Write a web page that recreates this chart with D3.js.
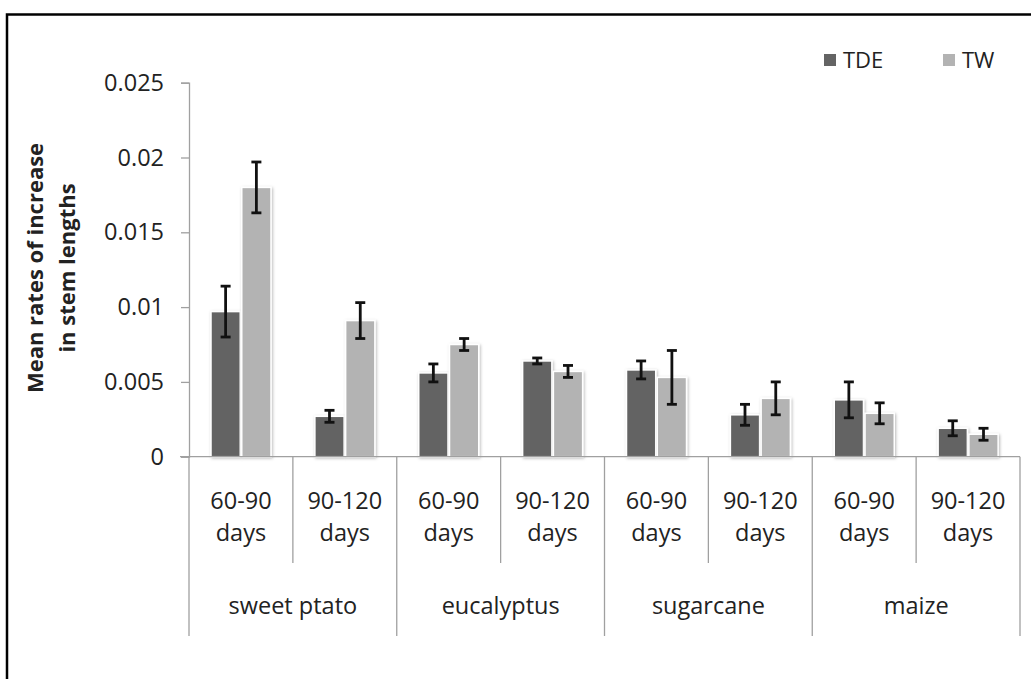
<!DOCTYPE html>
<html>
<head>
<meta charset="utf-8">
<script src="https://cdn.jsdelivr.net/npm/d3@7"></script>
<style>
  html, body { margin: 0; padding: 0; background: #fff; }
  svg { display: block; }
  text { font-family: "Open Sans", "DejaVu Sans", sans-serif; fill: #222; }
</style>
</head>
<body>
<svg id="chart" width="1031" height="679"></svg>
<script>
// ---- data ----
const groups = ["sweet ptato", "eucalyptus", "sugarcane", "maize"];
const periods = ["60-90 days", "90-120 days"];
const series = ["TDE", "TW"];
const tdeValues = [0.0097, 0.0027, 0.0056, 0.0064, 0.0058, 0.0028, 0.0038, 0.0019];
const tdeErrors = [0.0017, 0.0004, 0.0006, 0.0002, 0.0006, 0.0007, 0.0012, 0.0005];
const twValues  = [0.0180, 0.0091, 0.0075, 0.0057, 0.0053, 0.0039, 0.0029, 0.0015];
const twErrors  = [0.0017, 0.0012, 0.0004, 0.0004, 0.0018, 0.0011, 0.0007, 0.0004];
const yTicks = [0, 0.005, 0.01, 0.015, 0.02, 0.025];
const yTickLabels = ["0", "0.005", "0.01", "0.015", "0.02", "0.025"];
const yTitle = ["Mean rates of increase", "in stem lengths"];
const colors = { TDE: "#646464", TW: "#b3b3b3" };

// ---- build ----
const slots = [];
groups.forEach(g => periods.forEach(p => slots.push(g + "|" + p)));
const rows = slots.map((s, i) => ({
  slot: s, group: s.split("|")[0], period: s.split("|")[1],
  vals: [
    { key: "TDE", v: tdeValues[i], e: tdeErrors[i] },
    { key: "TW",  v: twValues[i],  e: twErrors[i] }
  ]
}));

const svg = d3.select("#chart");
const plotL = 189, plotR = 1020, plotTop = 82.7, plotBottom = 456.7;

const defs = svg.append("defs");
const f = defs.append("filter").attr("id", "sh").attr("x", "-20%").attr("y", "-20%").attr("width", "140%").attr("height", "140%");
f.append("feDropShadow").attr("dx", 1).attr("dy", 1).attr("stdDeviation", 1.4)
  .attr("flood-color", "#000").attr("flood-opacity", 0.28);

// outer frame
svg.append("rect").attr("x", 7).attr("y", 14.5).attr("width", 1060).attr("height", 700)
  .attr("fill", "none").attr("stroke", "#000").attr("stroke-width", 2.5);

const x = d3.scaleBand().domain(slots).range([plotL, plotR]).padding(0);
const xs = d3.scaleBand().domain(series).range([22, 82]).paddingInner(0.05);
const y = d3.scaleLinear().domain([0, 0.025]).range([plotBottom, plotTop]);

// y axis
const yAxis = d3.axisLeft(y).tickValues(yTicks).tickSize(8)
  .tickFormat((d, i) => yTickLabels[i]).tickPadding(17);
const ya = svg.append("g").attr("transform", `translate(${plotL},0)`).call(yAxis);
ya.select(".domain").attr("stroke", "#a0a0a0").attr("stroke-width", 1.3);
ya.selectAll(".tick line").attr("stroke", "#a0a0a0").attr("stroke-width", 1.3);
ya.selectAll(".tick text").attr("font-size", 23.5).attr("fill", "#222")
  .style("font-family", '"Open Sans", sans-serif');

// y title
const yt = svg.append("text").attr("transform", "translate(50,268) rotate(-90)")
  .attr("text-anchor", "middle").attr("font-weight", "bold").attr("font-size", 22);
yt.append("tspan").attr("x", 0).attr("dy", "-0.3em").text(yTitle[0]);
yt.append("tspan").attr("x", 0).attr("dy", "1.42em").text(yTitle[1]);

// bars
const slotG = svg.append("g").selectAll("g").data(rows).join("g")
  .attr("transform", d => `translate(${x(d.slot)},0)`);
slotG.selectAll("rect").data(d => d.vals).join("rect")
  .attr("x", d => xs(d.key)).attr("width", xs.bandwidth())
  .attr("y", d => y(d.v)).attr("height", d => y(0) - y(d.v))
  .attr("fill", d => colors[d.key]).attr("stroke", "#fff").attr("stroke-width", 1.5)
  .attr("filter", "url(#sh)");

// error bars
const eb = slotG.selectAll("g.err").data(d => d.vals).join("g").attr("class", "err")
  .attr("stroke", "#111").attr("stroke-width", 2.8);
const cxOf = d => xs(d.key) + xs.bandwidth() / 2;
eb.append("line").attr("x1", cxOf).attr("x2", cxOf)
  .attr("y1", d => y(d.v + d.e)).attr("y2", d => y(d.v - d.e));
eb.append("line").attr("x1", d => cxOf(d) - 5).attr("x2", d => cxOf(d) + 5)
  .attr("y1", d => y(d.v + d.e)).attr("y2", d => y(d.v + d.e));
eb.append("line").attr("x1", d => cxOf(d) - 5).attr("x2", d => cxOf(d) + 5)
  .attr("y1", d => y(d.v - d.e)).attr("y2", d => y(d.v - d.e));

// x axis line
svg.append("line").attr("x1", plotL - 9).attr("x2", plotR).attr("y1", plotBottom).attr("y2", plotBottom)
  .attr("stroke", "#a0a0a0").attr("stroke-width", 1.3);

// separators
const gridC = "#a0a0a0";
slots.forEach((s, i) => {
  const xx = x(s);
  const isGroup = i % 2 === 0;
  svg.append("line").attr("x1", xx).attr("x2", xx).attr("y1", plotBottom)
    .attr("y2", isGroup ? 636 : 563).attr("stroke", gridC).attr("stroke-width", 1.3);
});
svg.append("line").attr("x1", plotR).attr("x2", plotR).attr("y1", plotBottom).attr("y2", 636)
  .attr("stroke", gridC).attr("stroke-width", 1.3);

// period labels
rows.forEach(r => {
  const cx = x(r.slot) + x.bandwidth() / 2;
  const parts = r.period.split(" ");
  svg.append("text").attr("x", cx).attr("y", 508.5).attr("text-anchor", "middle").attr("font-size", 23.5).text(parts[0]);
  svg.append("text").attr("x", cx).attr("y", 540.5).attr("text-anchor", "middle").attr("font-size", 23.5).text(parts[1]);
});
// group labels
groups.forEach((g, i) => {
  const cx = (x(slots[i * 2]) + x(slots[i * 2 + 1]) + x.bandwidth()) / 2;
  svg.append("text").attr("x", cx).attr("y", 613.5).attr("text-anchor", "middle").attr("font-size", 23.5).text(g);
});

// legend
const legX = [824, 943];
series.forEach((s, i) => {
  svg.append("rect").attr("x", legX[i]).attr("y", 54).attr("width", 12).attr("height", 12).attr("fill", colors[s]);
  svg.append("text").attr("x", legX[i] + 19).attr("y", 67.5).attr("font-size", 22).text(s);
});
</script>
</body>
</html>
